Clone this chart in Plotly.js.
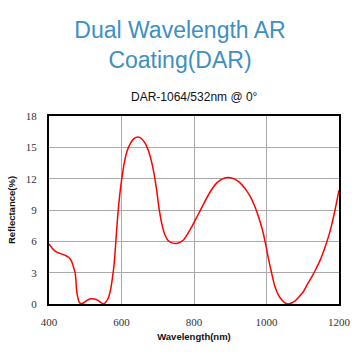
<!DOCTYPE html>
<html><head><meta charset="utf-8">
<script src="https://cdn.plot.ly/plotly-3.0.1.min.js"></script>
<style>html,body{margin:0;padding:0;background:#fff}#c{width:360px;height:360px}</style>
</head><body><div id="c"></div>
<script>
const wavelength = [400, 410, 420, 430, 445, 455, 462, 467, 472, 474, 476, 479, 483, 488, 495, 505, 515, 525, 535, 543, 550, 557, 564, 570, 575, 579, 582, 585, 590, 595, 600, 607, 615, 625, 635, 646, 655, 665, 674, 681, 688, 697, 703, 711, 720, 728, 738, 752, 770, 789, 803, 821, 844, 863, 880, 895, 912, 927, 942, 955, 967, 978, 988, 996, 1005, 1012, 1023, 1033, 1042, 1051, 1060, 1069, 1079, 1090, 1102, 1113, 1125, 1137, 1148, 1160, 1171, 1180, 1189, 1200];
const reflectance = [5.75, 5.3, 5.0, 4.85, 4.65, 4.45, 4.1, 3.6, 3.0, 2.4, 1.4, 0.7, 0.2, 0.02, 0.1, 0.35, 0.5, 0.48, 0.35, 0.15, 0.02, 0.2, 0.6, 1.4, 2.5, 3.6, 4.8, 6.3, 8.6, 10.4, 11.8, 13.4, 14.6, 15.4, 15.85, 16.0, 15.85, 15.4, 14.7, 13.9, 12.8, 10.9, 9.3, 7.7, 6.6, 6.1, 5.88, 5.8, 6.1, 7.1, 8.0, 9.2, 10.7, 11.6, 12.0, 12.1, 11.95, 11.6, 11.0, 10.3, 9.4, 8.36, 7.2, 6.0, 4.4, 3.3, 1.7, 0.85, 0.4, 0.1, 0.0, 0.1, 0.3, 0.7, 1.2, 1.9, 2.6, 3.4, 4.2, 5.3, 6.45, 7.6, 9.0, 10.9];
const xTicks = [400, 600, 800, 1000, 1200];
const yTicks = [0, 3, 6, 9, 12, 15, 18];

const tickFont = {family: 'Liberation Serif, Times New Roman, serif', size: 11, color: '#333'};
Plotly.newPlot('c', [{
  x: wavelength, y: reflectance, type: 'scatter', mode: 'lines',
  line: {color: '#ff0000', width: 1.5, shape: 'spline', smoothing: 0.8},
  hoverinfo: 'skip'
}], {
  width: 360, height: 360,
  margin: {l: 49, r: 21, t: 116, b: 56},
  paper_bgcolor: '#fff', plot_bgcolor: '#fff',
  showlegend: false,
  title: {text: 'Dual Wavelength AR<br>Coating(DAR)', x: 0.5, xanchor: 'center', y: 0.894, yanchor: 'middle',
    font: {family: 'Liberation Sans, Arial, sans-serif', size: 23, color: '#3d90c2'}},
  annotations: [{text: 'DAR-1064/532nm @ 0°', xref: 'paper', yref: 'paper', x: 0.5, y: 1.0, yshift: 19,
    xanchor: 'center', yanchor: 'middle', showarrow: false,
    font: {family: 'Liberation Sans, Arial, sans-serif', size: 12, color: '#111'}}],
  xaxis: {range: [400, 1200], tickvals: xTicks, ticktext: xTicks.map(String), showgrid: true,
    gridcolor: '#aaa', gridwidth: 1, zeroline: false, showline: true, mirror: true, linecolor: '#000', linewidth: 2,
    ticks: 'outside', ticklen: 7, tickcolor: 'rgba(0,0,0,0)', tickfont: tickFont,
    title: {text: '<b>Wavelength(nm)</b>', standoff: 6, font: {family: 'Liberation Sans, Arial, sans-serif', size: 9.5, color: '#111'}}},
  yaxis: {range: [0, 18], tickvals: yTicks, ticktext: yTicks.map(String), showgrid: true,
    gridcolor: '#aaa', gridwidth: 1, zeroline: false, showline: true, mirror: true, linecolor: '#000', linewidth: 2,
    ticks: 'outside', ticklen: 8, tickcolor: 'rgba(0,0,0,0)', tickfont: tickFont,
    title: {text: '<b>Reflectance(%)</b>', standoff: 8, font: {family: 'Liberation Sans, Arial, sans-serif', size: 9.5, color: '#111'}}}
}, {staticPlot: true, displayModeBar: false});
</script></body></html>
